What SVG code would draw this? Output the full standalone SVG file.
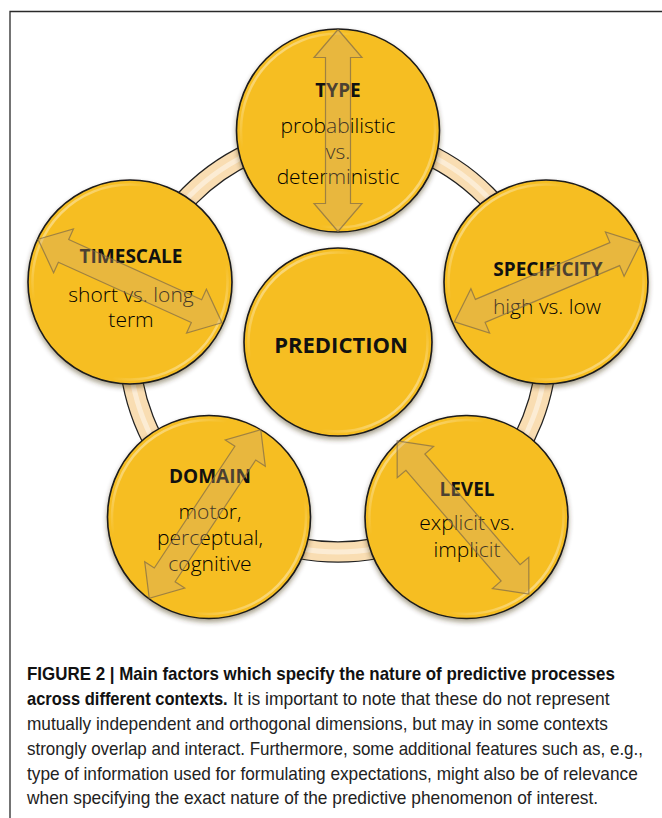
<svg xmlns="http://www.w3.org/2000/svg" width="662" height="818" viewBox="0 0 662 818">
<style>
.disc{fill:#F6BE24;stroke:#1a1a1a;stroke-width:1.6;filter:url(#shadow)}
.rim{fill:none;stroke:url(#rimg);stroke-width:2.5}
.arr{fill:#C9A878;fill-opacity:0.32;stroke:#7d6a48;stroke-opacity:0.7;stroke-width:1.2}
.ttl{font-family:"Open Sans","Liberation Sans",sans-serif;font-weight:700;font-size:19px;fill:#111;text-anchor:middle}
.big{font-family:"Open Sans","Liberation Sans",sans-serif;font-weight:700;font-size:22px;fill:#111;text-anchor:middle}
.sub{font-family:"Open Sans","Liberation Sans",sans-serif;font-weight:300;font-size:21px;fill:#000;text-anchor:middle}
.cap{font-family:"Liberation Sans",Arial,sans-serif;font-size:18px;fill:#222}
.capb{font-family:"Liberation Sans",Arial,sans-serif;font-size:18px;font-weight:700;fill:#111}
</style>
<defs>
<filter id="shadow" x="-20%" y="-20%" width="140%" height="140%">
<feDropShadow dx="0" dy="3" stdDeviation="2.5" flood-color="#3a2a10" flood-opacity="0.45"/>
</filter>
<linearGradient id="rimg" x1="0" y1="0" x2="1" y2="1">
<stop offset="0" stop-color="#fff" stop-opacity="0.75"/>
<stop offset="0.3" stop-color="#fff" stop-opacity="0"/>
<stop offset="0.7" stop-color="#fff" stop-opacity="0"/>
<stop offset="1" stop-color="#fff" stop-opacity="0.75"/>
</linearGradient>
<path id="darr" d="M-101,0 L-73,-24 L-73,-12.5 L73,-12.5 L73,-24 L101,0 L73,24 L73,12.5 L-73,12.5 L-73,24 Z"/>
</defs>
<rect width="662" height="818" fill="#fff"/>
<path d="M10,818 V11.5 H662" fill="none" stroke="#2a2a2a" stroke-width="1.3"/>

<g id="connectors">
<circle cx="338" cy="343" r="209" fill="none" stroke="#222" stroke-width="21.5"/>
<circle cx="338" cy="343" r="209" fill="none" stroke="#F9DDB2" stroke-width="19"/>
<circle cx="338" cy="343" r="209" fill="none" stroke="#FDF0DC" stroke-width="5" stroke-opacity="0.8"/>
</g>

<g id="node-type">
<circle class="disc" cx="338" cy="130.5" r="101.5"/>
<circle class="rim" cx="338" cy="130.5" r="97"/>
<text class="ttl" x="338" y="97">TYPE</text>
<text class="sub" x="338" y="133">probabilistic</text>
<text class="sub" x="338" y="159">vs.</text>
<text class="sub" x="338" y="184">deterministic</text>
<use href="#darr" class="arr" transform="translate(338,130.5) rotate(90)"/>
</g>

<g id="node-timescale">
<circle class="disc" cx="130" cy="282" r="102"/>
<circle class="rim" cx="130" cy="282" r="97.5"/>
<text class="ttl" x="131" y="263">TIMESCALE</text>
<text class="sub" x="131" y="302">short vs. long</text>
<text class="sub" x="131" y="327">term</text>
<use href="#darr" class="arr" transform="translate(130,281) rotate(24.4)"/>
</g>

<g id="node-specificity">
<circle class="disc" cx="546" cy="282" r="102"/>
<circle class="rim" cx="546" cy="282" r="97.5"/>
<text class="ttl" x="548" y="276">SPECIFICITY</text>
<text class="sub" x="547" y="314">high vs. low</text>
<use href="#darr" class="arr" transform="translate(547.5,282.5) rotate(-22.9)"/>
</g>

<g id="node-domain">
<circle class="disc" cx="209" cy="517" r="101.5"/>
<circle class="rim" cx="209" cy="517" r="97"/>
<text class="ttl" x="210" y="483">DOMAIN</text>
<text class="sub" x="210" y="519">motor,</text>
<text class="sub" x="210" y="545">perceptual,</text>
<text class="sub" x="210" y="571">cognitive</text>
<use href="#darr" class="arr" transform="translate(205,514) rotate(-56.5)"/>
</g>

<g id="node-level">
<circle class="disc" cx="466.5" cy="517" r="101.5"/>
<circle class="rim" cx="466.5" cy="517" r="97"/>
<text class="ttl" x="467" y="496">LEVEL</text>
<text class="sub" x="467" y="530">explicit vs.</text>
<text class="sub" x="467" y="557">implicit</text>
<use href="#darr" class="arr" transform="translate(463,517.5) rotate(49.3)"/>
</g>

<g id="node-prediction">
<circle class="disc" cx="338" cy="342" r="94"/>
<circle class="rim" cx="338" cy="342" r="89.5"/>
<text class="big" x="341" y="353">PREDICTION</text>
</g>

<g id="caption">
<text class="capb" transform="translate(27,680) scale(0.88,1)" textLength="668" lengthAdjust="spacingAndGlyphs">FIGURE 2 | Main factors which specify the nature of predictive processes</text>
<text class="capb" transform="translate(27,705) scale(0.88,1)" textLength="228" lengthAdjust="spacingAndGlyphs">across different contexts.</text>
<text class="cap" transform="translate(233,705) scale(0.88,1)" textLength="428" lengthAdjust="spacingAndGlyphs">It is important to note that these do not represent</text>
<text class="cap" transform="translate(27,730) scale(0.88,1)" textLength="660" lengthAdjust="spacingAndGlyphs">mutually independent and orthogonal dimensions, but may in some contexts</text>
<text class="cap" transform="translate(27,755) scale(0.88,1)" textLength="700" lengthAdjust="spacingAndGlyphs">strongly overlap and interact. Furthermore, some additional features such as, e.g.,</text>
<text class="cap" transform="translate(27,780) scale(0.88,1)" textLength="694" lengthAdjust="spacingAndGlyphs">type of information used for formulating expectations, might also be of relevance</text>
<text class="cap" transform="translate(27,804) scale(0.88,1)" textLength="649" lengthAdjust="spacingAndGlyphs">when specifying the exact nature of the predictive phenomenon of interest.</text>
</g>
</svg>
